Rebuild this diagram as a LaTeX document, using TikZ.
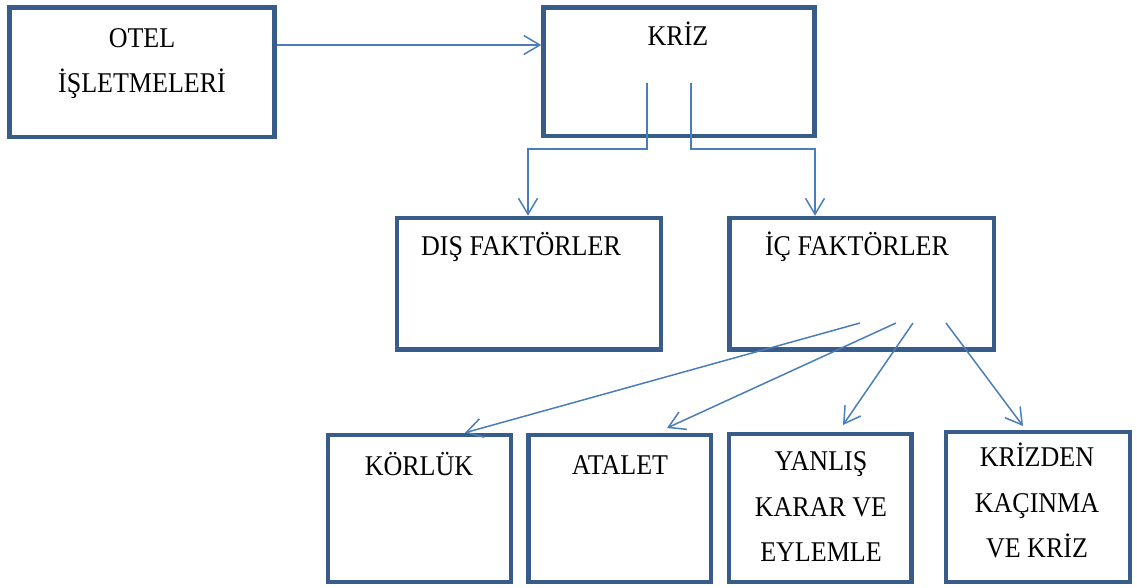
\documentclass[tikz,border=0pt]{standalone}
\usepackage{fontspec}
\setmainfont{Liberation Serif}[FakeStretch=0.91]
\usetikzlibrary{arrows.meta}
\definecolor{boxblue}{HTML}{385D8A}
\definecolor{linkblue}{HTML}{4A7EBB}

\begin{document}
\begin{tikzpicture}[x=1pt,y=-1pt,
  box/.style={draw=boxblue, line width=4.5pt, inner sep=0pt, fill=white},
  lbl/.style={font=\fontsize{28.6}{45.5}\selectfont, inner sep=0pt, align=center, anchor=base},
  conn/.style={draw=linkblue, line width=1.5pt, -{Straight Barb[length=16pt,width=19pt]}}]
\useasboundingbox (0,0) rectangle (1137,587);

% boxes
\node[box, minimum width=265pt, minimum height=129.5pt] (otel) at (142,72.25) {};
\node[box, minimum width=271pt, minimum height=128.5pt] (kriz) at (679,71.75) {};
\node[box, minimum width=264pt, minimum height=131.5pt] (dis) at (529,283.75) {};
\node[box, minimum width=264.5pt, minimum height=131.5pt] (ic) at (861.75,283.75) {};
\node[box, minimum width=183pt, minimum height=147pt] (korluk) at (419.5,508.5) {};
\node[box, minimum width=182.5pt, minimum height=147pt] (atalet) at (619.75,508.5) {};
\node[box, minimum width=182.5pt, minimum height=148pt] (yanlis) at (820.25,508) {};
\node[box, minimum width=184pt, minimum height=150pt] (krizden) at (1038,507) {};

% texts (base anchor sits on the last line's baseline)
\node[lbl] (otel-t) at (142,92.5) {OTEL\\İŞLETMELERİ};
\node[lbl] (kriz-t) at (678,45.5) {KRİZ};
\node[lbl] (dis-t) at (521,255.5) {DIŞ FAKTÖRLER};
\node[lbl] (ic-t) at (857,255.5) {İÇ FAKTÖRLER};
\node[lbl] (korluk-t) at (419,475.5) {KÖRLÜK};
\node[lbl] (atalet-t) at (620,474.5) {ATALET};
\node[lbl] (yanlis-t) at (821,561.5) {YANLIŞ\\KARAR VE\\EYLEMLE};
\node[lbl] (krizden-t) at (1037,557.5) {KRİZDEN\\KAÇINMA\\VE KRİZ};

% connector anchor points
\coordinate (row) at (0,45);
\coordinate (s1) at (647,83);
\coordinate (s2) at (691,83);
\coordinate (e1) at (528,149);
\coordinate (e2) at (815,149);
\coordinate (o1) at (860,323);
\coordinate (o2) at (896,323);
\coordinate (o3) at (913,323);
\coordinate (o4) at (946,323);

% connectors
\draw[conn] (otel.east |- row) -- (kriz.west |- row);
\draw[conn] (s1) |- (e1) -- (e1 |- dis.north);
\draw[conn] (s2) |- (e2) -- (e2 |- ic.north);
\draw[conn] (o1) -- ([xshift=45.5pt]korluk.north);
\draw[conn] (o2) -- ([xshift=47.25pt,yshift=4.75pt]atalet.north);
\draw[conn] (o3) -- ([xshift=22.75pt,yshift=6.75pt]yanlis.north);
\draw[conn] (o4) -- ([xshift=-15pt,yshift=3.75pt]krizden.north);
\end{tikzpicture}
\end{document}
